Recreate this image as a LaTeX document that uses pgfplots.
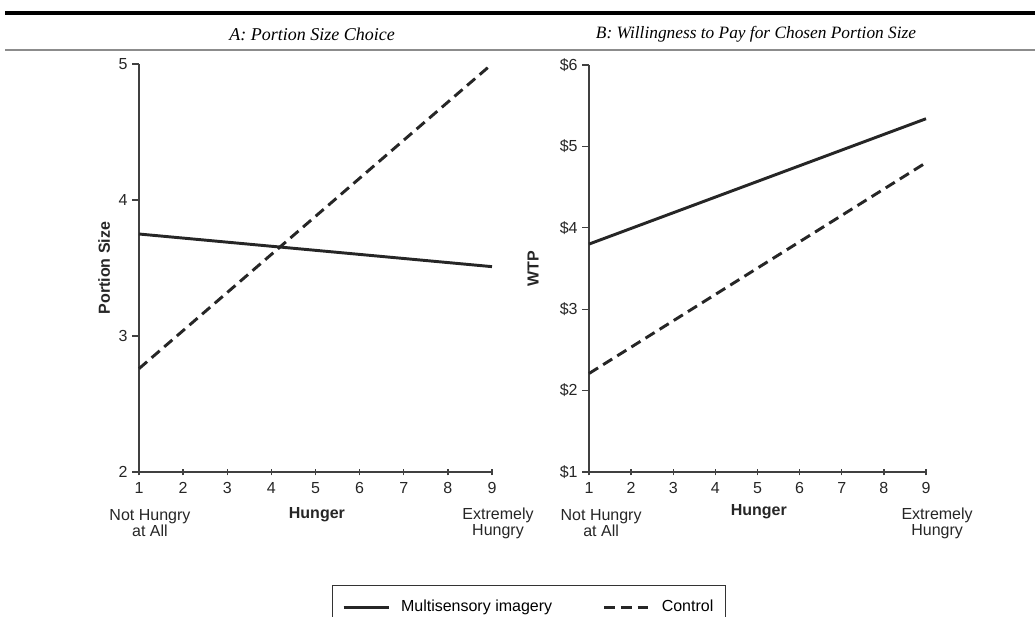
\documentclass[border=0pt]{standalone}
\usepackage{pgfplots}
\pgfplotsset{compat=1.18}
\usepackage{fontspec}
\setmainfont{Liberation Sans}
\newfontfamily\titlefont{Liberation Serif}
\pgfplotsset{
  panel/.style={
    scale only axis,
    axis lines=left,
    axis line style={line width=1.3pt, black!75, -},
    xmin=1, xmax=9, xtick={1,2,...,9},
    tick style={line width=1pt, black!75},
    major tick length=5pt,
    ytick align=outside,
    xtick align=center,
    tick label style={font=\fontsize{12}{13}\selectfont, black!85},
    xticklabel style={yshift=-2pt},
    /pgf/number format/assume math mode=true,
    label style={font=\bfseries\fontsize{12}{13}\selectfont, black!85},
    clip=false,
  },
  solidline/.style={black!85, line width=2.2pt},
  dashline/.style={black!85, line width=2.2pt, dash pattern=on 8pt off 4.5pt},
}
\begin{document}
\begin{tikzpicture}[x=0.75pt,y=-0.75pt]
\path[use as bounding box] (0,0) rectangle (1035,617);
\draw[line width=3pt] (5,13) -- (1035,13);
\draw[line width=2pt, black!45] (5,50) -- (1035,50);
\node[font=\titlefont\itshape\fontsize{13.5}{15}\selectfont] at (312,34) {A: Portion Size Choice};
\node[font=\titlefont\itshape\fontsize{13}{15}\selectfont] at (756,34) {B: Willingness to Pay for Chosen Portion Size};

\begin{axis}[panel,
  at={(104.25pt,-354pt)}, anchor=south west,
  width=264.75pt, height=306pt,
  ymin=2, ymax=5, ytick={2,3,4,5},
  ylabel={Portion Size},
  ylabel style={at={(axis description cs:-0.099,0.5)}, anchor=center},
  xlabel={Hunger},
  xlabel style={at={(axis description cs:0.504,-0.105)}, anchor=center},
  legend columns=2,
  legend image code/.code={\draw[#1] (0pt,0pt) -- (34pt,0pt);},
  legend style={at={(axis description cs:1.105,-0.277)}, anchor=north,
    draw=black!80, line width=1pt, inner xsep=7pt, inner ysep=9pt,
    font=\fontsize{12}{14}\selectfont,
    /tikz/every odd column/.append style={column sep=6pt},
    /tikz/every even column/.append style={column sep=36pt}},
  legend cell align=left,
]
\addplot[solidline] coordinates {(1,3.75) (9,3.51)};
\addlegendentry{Multisensory imagery}
\addplot[dashline] coordinates {(1,2.76) (9,5.00)};
\addlegendentry{Control}
\node[align=center, font=\fontsize{12}{12}\selectfont, black!85] at (axis description cs:0.031,-0.125) {Not Hungry\\at All};
\node[align=center, font=\fontsize{12}{12}\selectfont, black!85] at (axis description cs:1.017,-0.125) {Extremely\\Hungry};
\end{axis}

\begin{axis}[panel,
  at={(441.75pt,-354pt)}, anchor=south west,
  width=252.75pt, height=305.25pt,
  ymin=1, ymax=6, ytick={1,2,3,4,5,6},
  yticklabels={\$1,\$2,\$3,\$4,\$5,\$6},
  ylabel={WTP},
  ylabel style={at={(axis description cs:-0.166,0.5)}, anchor=center},
  xlabel={Hunger},
  xlabel style={at={(axis description cs:0.504,-0.098)}, anchor=center},
]
\addplot[solidline] coordinates {(1,3.80) (9,5.34)};
\addplot[dashline] coordinates {(1,2.21) (9,4.80)};
\node[align=center, font=\fontsize{12}{12}\selectfont, black!85] at (axis description cs:0.036,-0.126) {Not Hungry\\at All};
\node[align=center, font=\fontsize{12}{12}\selectfont, black!85] at (axis description cs:1.033,-0.126) {Extremely\\Hungry};
\end{axis}
\end{tikzpicture}
\end{document}
